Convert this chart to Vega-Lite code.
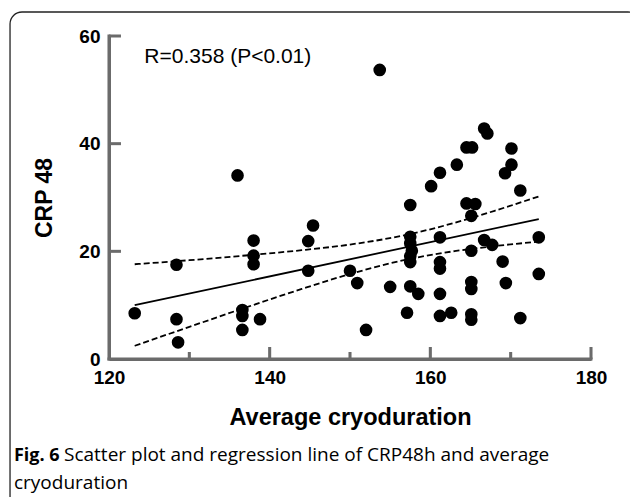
{
  "$schema": "https://vega.github.io/schema/vega-lite/v6.json",
  "width": 482,
  "height": 323,
  "autosize": "none",
  "padding": {"left": 109, "top": 36, "right": 39, "bottom": 138},
  "background": "white",
  "config": {"view": {"stroke": null}, "font": "Liberation Sans"},
  "datasets": {
    "pts": [
      {"x": 123.2, "y": 8.5}, {"x": 128.4, "y": 17.5}, {"x": 128.4, "y": 7.4}, {"x": 128.6, "y": 3.1},
      {"x": 136.0, "y": 34.1}, {"x": 136.6, "y": 9.1}, {"x": 136.6, "y": 8.0}, {"x": 136.6, "y": 5.4},
      {"x": 138.0, "y": 22.0}, {"x": 138.0, "y": 19.2}, {"x": 138.0, "y": 17.6}, {"x": 138.8, "y": 7.4},
      {"x": 144.8, "y": 21.9}, {"x": 145.4, "y": 24.8}, {"x": 144.8, "y": 16.4}, {"x": 150.0, "y": 16.4},
      {"x": 150.9, "y": 14.1}, {"x": 152.0, "y": 5.4}, {"x": 153.7, "y": 53.7}, {"x": 155.0, "y": 13.4},
      {"x": 157.1, "y": 8.6}, {"x": 157.5, "y": 28.6}, {"x": 157.5, "y": 22.7}, {"x": 157.5, "y": 21.5},
      {"x": 157.7, "y": 20.1}, {"x": 157.5, "y": 19.1}, {"x": 157.5, "y": 18.0}, {"x": 157.5, "y": 13.5},
      {"x": 158.5, "y": 12.1}, {"x": 160.1, "y": 32.1}, {"x": 161.2, "y": 34.6}, {"x": 161.2, "y": 22.6},
      {"x": 161.2, "y": 18.0}, {"x": 161.2, "y": 16.8}, {"x": 161.2, "y": 12.1}, {"x": 161.2, "y": 8.0},
      {"x": 162.6, "y": 8.6}, {"x": 163.3, "y": 36.1}, {"x": 164.5, "y": 39.3}, {"x": 165.2, "y": 39.3},
      {"x": 164.5, "y": 28.9}, {"x": 165.6, "y": 28.8}, {"x": 165.1, "y": 26.6}, {"x": 165.1, "y": 20.1},
      {"x": 165.1, "y": 14.3}, {"x": 165.1, "y": 13.0}, {"x": 165.1, "y": 8.3}, {"x": 165.1, "y": 7.3},
      {"x": 166.7, "y": 42.8}, {"x": 167.1, "y": 41.9}, {"x": 166.7, "y": 22.1}, {"x": 167.7, "y": 21.2},
      {"x": 169.0, "y": 18.1}, {"x": 169.3, "y": 34.5}, {"x": 169.4, "y": 14.1}, {"x": 170.1, "y": 39.1},
      {"x": 170.1, "y": 36.1}, {"x": 171.2, "y": 31.3}, {"x": 171.2, "y": 7.6}, {"x": 173.5, "y": 22.6},
      {"x": 173.5, "y": 15.8}
    ],
    "band": [
      {"line": "upper", "x": 123.2, "y": 17.6}, {"line": "upper", "x": 130, "y": 18.35}, {"line": "upper", "x": 137, "y": 19.23},
      {"line": "upper", "x": 144, "y": 20.21}, {"line": "upper", "x": 150, "y": 21.26}, {"line": "upper", "x": 157, "y": 23.05},
      {"line": "upper", "x": 163, "y": 25.29}, {"line": "upper", "x": 168, "y": 27.53}, {"line": "upper", "x": 173.5, "y": 30.2},
      {"line": "lower", "x": 123.2, "y": 2.45}, {"line": "lower", "x": 130, "y": 5.97}, {"line": "lower", "x": 137, "y": 9.55},
      {"line": "lower", "x": 144, "y": 13.01}, {"line": "lower", "x": 150, "y": 15.78}, {"line": "lower", "x": 157, "y": 18.45},
      {"line": "lower", "x": 163, "y": 20.03}, {"line": "lower", "x": 168, "y": 20.97}, {"line": "lower", "x": 173.5, "y": 21.8},
      {"line": "fit", "x": 123.2, "y": 10.0}, {"line": "fit", "x": 173.5, "y": 26.0}
    ],
    "notes": [
      {"label": "R=0.358 (P<0.01)"}
    ],
    "caption": [
      {"part": "bold", "label": "Fig. 6"},
      {"part": "line1", "label": "Scatter plot and regression line of CRP48h and average"},
      {"part": "line2", "label": "cryoduration"}
    ]
  },
  "layer": [
    {
      "data": {"name": "notes"},
      "mark": {"type": "rect", "filled": false, "stroke": "#222", "strokeWidth": 1.3, "cornerRadius": 12},
      "encoding": {
        "x": {"datum": 107.68, "type": "quantitative"}, "x2": {"datum": 186.1},
        "y": {"datum": 64.46, "type": "quantitative"}, "y2": {"datum": -28.05}
      }
    },
    {
      "data": {"name": "pts"},
      "mark": {"type": "circle", "color": "black", "opacity": 1, "size": 160},
      "encoding": {
        "x": {
          "field": "x", "type": "quantitative",
          "scale": {"domain": [120, 180], "zero": false, "nice": false},
          "axis": {
            "title": "Average cryoduration",
            "values": [120, 140, 160, 180],
            "ticks": true, "tickSize": 0,
            "grid": false,
            "domain": true,
            "domainColor": "#6b6b6b", "domainWidth": 3,
            "labelPadding": 9,
            "labelFont": "Liberation Sans", "labelFontSize": 19, "labelFontWeight": "bold", "labelColor": "black",
            "labelFlush": false, "labelOverlap": false,
            "titleFont": "Liberation Sans", "titleFontSize": 23.5, "titleFontWeight": "bold", "titleColor": "black",
            "titlePadding": 18
          }
        },
        "y": {
          "field": "y", "type": "quantitative",
          "scale": {"domain": [0, 60], "nice": false},
          "axis": {
            "title": "CRP 48",
            "values": [0, 20, 40, 60],
            "ticks": true, "tickSize": 0,
            "grid": false,
            "domain": true,
            "domainColor": "#6b6b6b", "domainWidth": 3,
            "labelPadding": 9,
            "labelFont": "Liberation Sans", "labelFontSize": 19, "labelFontWeight": "bold", "labelColor": "black",
            "labelFlush": false, "labelOverlap": false,
            "titleFont": "Liberation Sans", "titleFontSize": 23, "titleFontWeight": "bold", "titleColor": "black",
            "titlePadding": 22
          }
        }
      }
    },
    {
      "data": {"name": "notes"},
      "mark": {"type": "rect", "color": "#6b6b6b"},
      "encoding": {
        "x": {"datum": 119.81, "type": "quantitative"}, "x2": {"datum": 180.19},
        "y": {"datum": -0.279, "type": "quantitative"}, "y2": {"datum": 0.279}
      }
    },
    {
      "data": {"name": "notes"},
      "mark": {"type": "rect", "color": "#6b6b6b"},
      "encoding": {
        "x": {"datum": 119.81, "type": "quantitative"}, "x2": {"datum": 120.19},
        "y": {"datum": -0.279, "type": "quantitative"}, "y2": {"datum": 60.279}
      }
    },
    {
      "data": {"name": "notes"},
      "mark": {"type": "rect", "color": "#6b6b6b"},
      "encoding": {
        "x": {"datum": 129.81, "type": "quantitative"}, "x2": {"datum": 130.19},
        "y": {"datum": 0, "type": "quantitative"}, "y2": {"datum": 1.3}
      }
    },
    {
      "data": {"name": "notes"},
      "mark": {"type": "rect", "color": "#6b6b6b"},
      "encoding": {
        "x": {"datum": 139.81, "type": "quantitative"}, "x2": {"datum": 140.19},
        "y": {"datum": 0, "type": "quantitative"}, "y2": {"datum": 2.23}
      }
    },
    {
      "data": {"name": "notes"},
      "mark": {"type": "rect", "color": "#6b6b6b"},
      "encoding": {
        "x": {"datum": 149.81, "type": "quantitative"}, "x2": {"datum": 150.19},
        "y": {"datum": 0, "type": "quantitative"}, "y2": {"datum": 1.3}
      }
    },
    {
      "data": {"name": "notes"},
      "mark": {"type": "rect", "color": "#6b6b6b"},
      "encoding": {
        "x": {"datum": 159.81, "type": "quantitative"}, "x2": {"datum": 160.19},
        "y": {"datum": 0, "type": "quantitative"}, "y2": {"datum": 2.23}
      }
    },
    {
      "data": {"name": "notes"},
      "mark": {"type": "rect", "color": "#6b6b6b"},
      "encoding": {
        "x": {"datum": 169.81, "type": "quantitative"}, "x2": {"datum": 170.19},
        "y": {"datum": 0, "type": "quantitative"}, "y2": {"datum": 1.3}
      }
    },
    {
      "data": {"name": "notes"},
      "mark": {"type": "rect", "color": "#6b6b6b"},
      "encoding": {
        "x": {"datum": 179.81, "type": "quantitative"}, "x2": {"datum": 180.19},
        "y": {"datum": 0, "type": "quantitative"}, "y2": {"datum": 2.23}
      }
    },
    {
      "data": {"name": "notes"},
      "mark": {"type": "rect", "color": "#6b6b6b"},
      "encoding": {
        "x": {"datum": 120, "type": "quantitative"}, "x2": {"datum": 121.49},
        "y": {"datum": 19.721, "type": "quantitative"}, "y2": {"datum": 20.279}
      }
    },
    {
      "data": {"name": "notes"},
      "mark": {"type": "rect", "color": "#6b6b6b"},
      "encoding": {
        "x": {"datum": 120, "type": "quantitative"}, "x2": {"datum": 121.49},
        "y": {"datum": 39.721, "type": "quantitative"}, "y2": {"datum": 40.279}
      }
    },
    {
      "data": {"name": "notes"},
      "mark": {"type": "rect", "color": "#6b6b6b"},
      "encoding": {
        "x": {"datum": 120, "type": "quantitative"}, "x2": {"datum": 121.49},
        "y": {"datum": 59.721, "type": "quantitative"}, "y2": {"datum": 60.279}
      }
    },
    {
      "data": {"name": "band"},
      "transform": [{"filter": "datum.line !== 'fit'"}],
      "mark": {"type": "line", "color": "black", "strokeWidth": 1.8, "strokeDash": [6, 3], "interpolate": "monotone"},
      "encoding": {
        "x": {"field": "x", "type": "quantitative"},
        "y": {"field": "y", "type": "quantitative"},
        "detail": {"field": "line"}
      }
    },
    {
      "data": {"name": "band"},
      "transform": [{"filter": "datum.line === 'fit'"}],
      "mark": {"type": "line", "color": "black", "strokeWidth": 1.8},
      "encoding": {
        "x": {"field": "x", "type": "quantitative"},
        "y": {"field": "y", "type": "quantitative"}
      }
    },
    {
      "data": {"name": "notes"},
      "mark": {"type": "text", "font": "Liberation Sans", "fontSize": 21, "align": "left", "baseline": "middle", "color": "black"},
      "encoding": {
        "x": {"datum": 124.4, "type": "quantitative"},
        "y": {"datum": 56.16, "type": "quantitative"},
        "text": {"field": "label"}
      }
    },
    {
      "data": {"name": "caption"},
      "transform": [{"filter": "datum.part === 'bold'"}],
      "mark": {"type": "text", "font": "Open Sans", "fontSize": 18, "fontWeight": "bold", "align": "left", "baseline": "alphabetic", "color": "black"},
      "encoding": {
        "x": {"datum": 108.17, "type": "quantitative"},
        "y": {"datum": -18.95, "type": "quantitative"},
        "text": {"field": "label"}
      }
    },
    {
      "data": {"name": "caption"},
      "transform": [{"filter": "datum.part === 'line1'"}],
      "mark": {"type": "text", "font": "Open Sans", "fontSize": 19, "align": "left", "baseline": "alphabetic", "color": "black"},
      "encoding": {
        "x": {"datum": 114.4, "type": "quantitative"},
        "y": {"datum": -18.95, "type": "quantitative"},
        "text": {"field": "label"}
      }
    },
    {
      "data": {"name": "caption"},
      "transform": [{"filter": "datum.part === 'line2'"}],
      "mark": {"type": "text", "font": "Open Sans", "fontSize": 19, "align": "left", "baseline": "alphabetic", "color": "black"},
      "encoding": {
        "x": {"datum": 108.17, "type": "quantitative"},
        "y": {"datum": -24.15, "type": "quantitative"},
        "text": {"field": "label"}
      }
    }
  ]
}
